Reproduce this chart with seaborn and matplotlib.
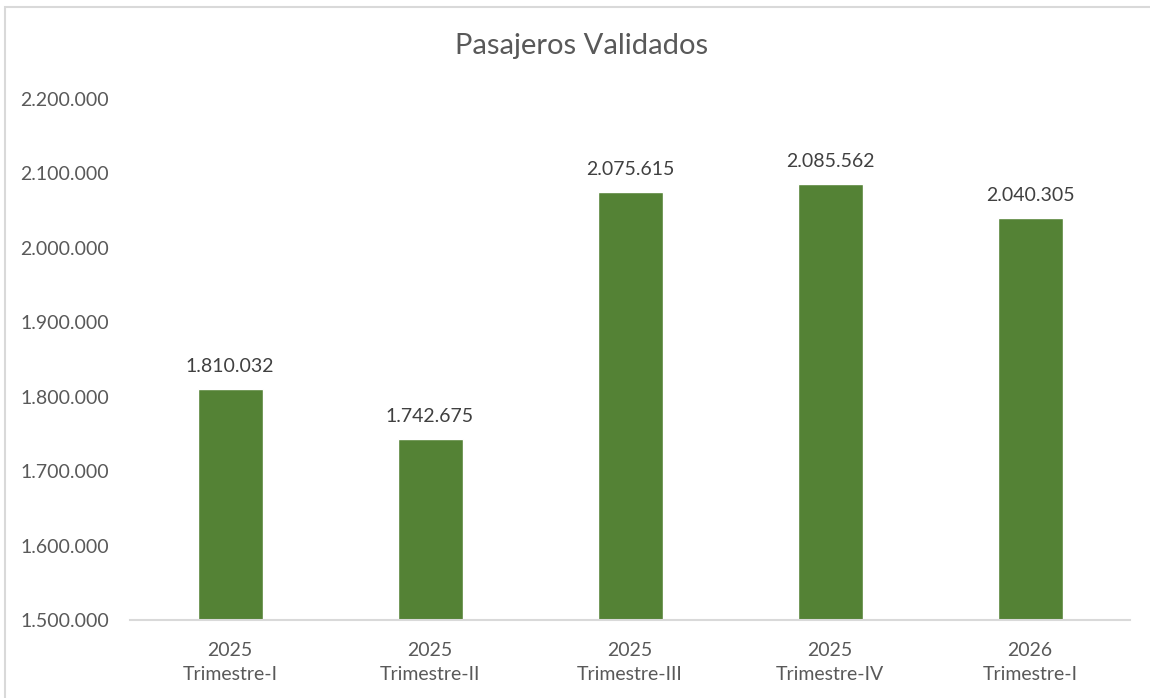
import matplotlib
matplotlib.use("Agg")
import matplotlib.pyplot as plt
import seaborn as sns
import pandas as pd
from matplotlib.patches import Rectangle

years = ["2025", "2025", "2025", "2025", "2026"]
quarters = ["Trimestre-I", "Trimestre-II", "Trimestre-III", "Trimestre-IV", "Trimestre-I"]
values = [1810032, 1742675, 2075615, 2085562, 2040305]
yticks = [1500000, 1600000, 1700000, 1800000, 1900000, 2000000, 2100000, 2200000]
title = "Pasajeros Validados"

def fmt(v):
    return f"{v:,}".replace(",", ".")

sns.set_theme(style="white")
plt.rcParams["font.family"] = ["Lato", "DejaVu Sans"]

labels = [f"{y}\n{q}" for y, q in zip(years, quarters)]
df = pd.DataFrame({"cat": labels, "val": values})

fig = plt.figure(figsize=(11.5, 6.98), dpi=100)
ax = fig.add_axes([130/1150, 78/698, 1000/1150, 521/698])

sns.barplot(data=df, x="cat", y="val", color="#548235", width=0.325, ax=ax, saturation=1)

ax.set_ylim(1500000, 2200000)
ax.set_xlim(-0.5, 4.5)
ax.set_yticks(yticks)
ax.set_yticklabels([fmt(v) for v in yticks])
ax.set_xlabel("")
ax.set_ylabel("")
ax.tick_params(axis="y", length=0, pad=15, labelsize=14, labelcolor="#595959")
ax.tick_params(axis="x", length=0, pad=16, labelsize=14, labelcolor="#595959")
for lab in ax.get_xticklabels():
    lab.set_linespacing(1.45)
for s in ["top", "right", "left"]:
    ax.spines[s].set_visible(False)
ax.spines["bottom"].set_color("#d9d9d9")
ax.spines["bottom"].set_linewidth(1.5)

for i, v in enumerate(values):
    ax.annotate(fmt(v), (i, v), xytext=(0, 10), textcoords="offset points",
                ha="center", va="bottom", fontsize=14, color="#404040")

fig.text(582/1150, 1 - 46/698, title, ha="center", va="center", fontsize=21, color="#595959")

fig.patches.append(Rectangle((5/1150, -0.1), 1.2, 1 - 7/698 + 0.1, transform=fig.transFigure,
                             fill=False, edgecolor="#d9d9d9", linewidth=1.5))

fig.savefig("out.png", dpi=100)
